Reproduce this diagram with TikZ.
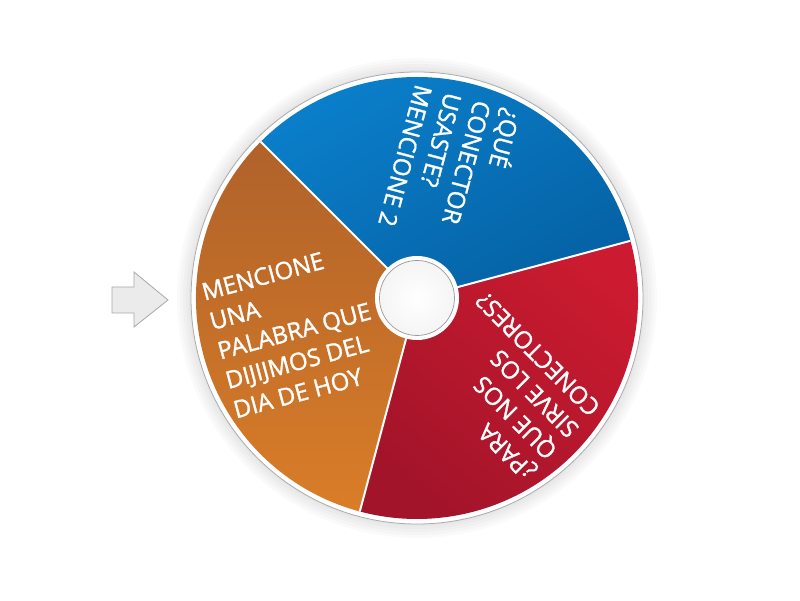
\documentclass[tikz,border=0pt]{standalone}
\usepackage{fontspec}
\setmainfont{Open Sans}
\newfontfamily\wheelfont{Open Sans}[FakeBold=1.3]
\begin{document}
\begin{tikzpicture}[x=1pt,y=1pt,
  wtext/.style={text=white, align=left, inner sep=0pt, font=\wheelfont\fontsize{24}{30.5}\selectfont},
  sep/.style={white, line width=2pt}]
\definecolor{bluA}{HTML}{0B80CC}
\definecolor{bluB}{HTML}{0562A5}
\definecolor{redA}{HTML}{CC1B30}
\definecolor{redB}{HTML}{A2142A}
\definecolor{oraA}{HTML}{B0622A}
\definecolor{oraB}{HTML}{D97D28}
\definecolor{rimgray}{HTML}{A9ABAE}
\definecolor{arrfill}{HTML}{EBEBEB}
\definecolor{arrline}{HTML}{A8A8A8}
\useasboundingbox[fill=white] (0,0) rectangle (800,600);
% pointer arrow
\draw[fill=arrfill, draw=arrline, line width=0.8pt, line join=miter]
  (112,287) -- (134,287) -- (134,273) -- (168,300) -- (134,328) -- (134,313) -- (112,313) -- cycle;
\begin{scope}[shift={(417,302)}]
  % soft shadow
  \foreach \r in {240,237,234,231,228}{
    \fill[black, opacity=0.018] (0,0) circle[radius=\r];
  }
  \fill[white] (0,0) circle[radius=226];
  \draw[rimgray, line width=0.8pt] (0,0) circle[radius=226];
  % sectors
  \path[top color=bluA, bottom color=bluB, shading angle=30]
    (0,0) -- (135:221) arc[start angle=135, end angle=15, radius=221] -- cycle;
  \path[top color=redA, bottom color=redB, shading angle=-40]
    (0,0) -- (15:221) arc[start angle=15, end angle=-105, radius=221] -- cycle;
  \path[top color=oraA, bottom color=oraB]
    (0,0) -- (255:221) arc[start angle=255, end angle=135, radius=221] -- cycle;
  % separators
  \coordinate (o) at (0,0);
  \coordinate (s1) at (135:221);
  \coordinate (s2) at (15:221);
  \coordinate (s3) at (255:221);
  \draw[sep] (o) -- (s1);
  \draw[sep] (o) -- (s2);
  \draw[sep] (o) -- (s3);
  % hub
  \fill[white] (0,0) circle[radius=42];
  \shade[inner color=white, outer color=black!4] (0,0) circle[radius=37.5];
  \draw[black!40, line width=0.7pt] (0,0) circle[radius=37.5];
  % texts
  \node[wtext, rotate=15, anchor=west] (torange) at (195:206)
    {MENCIONE\\UNA\\PALABRA QUE\\DIJIJMOS DEL\\DIA DE HOY};
  \node[wtext, rotate=-105, anchor=west] (tblue) at (75:207)
    {¿QUÉ\\CONECTOR\\USASTE?\\MENCIONE 2};
  \node[wtext, rotate=135, anchor=west] (tred) at (-45:207)
    {¿PARA\\QUE NOS\\SIRVE LOS\\CONECTORES?};
\end{scope}
\end{tikzpicture}
\end{document}
